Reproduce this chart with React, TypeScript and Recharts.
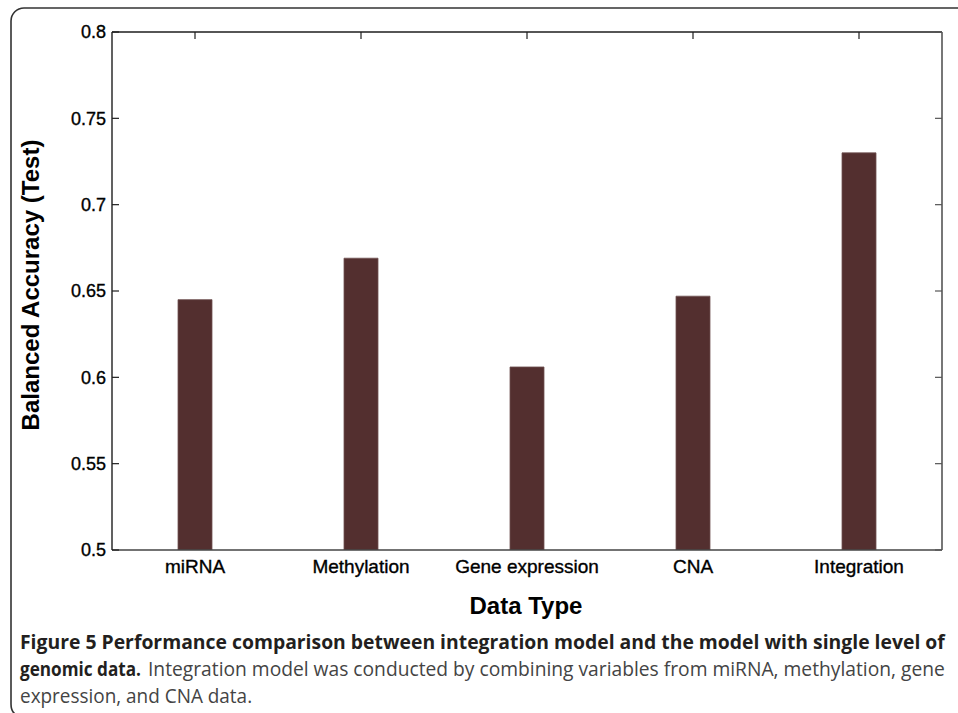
import React, { useLayoutEffect, useRef, useState } from "react";
import { BarChart, Bar, XAxis, YAxis } from "recharts";

// ---- data ----
const categories = ["miRNA", "Methylation", "Gene expression", "CNA", "Integration"];
const accuracy = [0.645, 0.669, 0.606, 0.647, 0.730];
const yTicks = [0.5, 0.55, 0.6, 0.65, 0.7, 0.75, 0.8];
const yTickLabels = ["0.5", "0.55", "0.6", "0.65", "0.7", "0.75", "0.8"];

const xTitle = "Data Type";
const yTitle = "Balanced Accuracy (Test)";
const captionBold1 = "Figure 5 Performance comparison between integration model and the model with single level of";
const captionBold2 = "genomic data.";
const captionRegular2 = "Integration model was conducted by combining variables from miRNA, methylation, gene";
const captionRegular3 = "expression, and CNA data.";

const data = categories.map((name, i) => ({ name, value: accuracy[i] }));

// ---- layout ----
const W = 958;
const H = 713;
const PLOT_LEFT = 112;
const PLOT_RIGHT = 942;
const PLOT_TOP = 32;
const PLOT_BOTTOM = 550;
const TICK = 7;
const AXIS_COLOR = "#1e1e1e";
const BAR_COLOR = "#532f2f";
const FONT = "'Liberation Sans', Arial, Helvetica, sans-serif";
const CAP_FONT = "'Open Sans', 'Noto Sans', sans-serif";

function FitText(props: any) {
  const { x, y, width, children, ...rest } = props;
  const ref = useRef<SVGTextElement>(null);
  const [sx, setSx] = useState(1);
  useLayoutEffect(() => {
    const measure = () => {
      if (ref.current) {
        const w = ref.current.getComputedTextLength();
        if (w > 0) setSx(width / w);
      }
    };
    measure();
    if ((document as any).fonts && (document as any).fonts.ready) {
      (document as any).fonts.ready.then(measure);
    }
  }, [width]);
  return (
    <text ref={ref} x={0} y={0} transform={`translate(${x},${y}) scale(${sx},1)`} {...rest}>
      {children}
    </text>
  );
}

const LeftTick = (props: any) => {
  const { y, payload } = props;
  const idx = yTicks.indexOf(payload.value);
  const label = idx >= 0 ? yTickLabels[idx] : String(payload.value);
  return (
    <g>
      <line x1={PLOT_LEFT} x2={PLOT_LEFT + TICK} y1={y} y2={y} stroke={AXIS_COLOR} strokeWidth={1.2} />
      <text
        x={PLOT_LEFT - 6}
        y={y}
        dy="0.36em"
        textAnchor="end"
        fontFamily={FONT}
        fontSize={18}
        fill="#000"
        stroke="#000"
        strokeWidth={0.35}
      >
        {label}
      </text>
    </g>
  );
};

const RightTick = (props: any) => {
  const { y } = props;
  return <line x1={PLOT_RIGHT - TICK} x2={PLOT_RIGHT} y1={y} y2={y} stroke="#555" strokeWidth={1.2} />;
};

const TopTick = (props: any) => {
  const { x } = props;
  return <line x1={x} x2={x} y1={PLOT_TOP} y2={PLOT_TOP + TICK} stroke={AXIS_COLOR} strokeWidth={1.2} />;
};

const BottomTick = (props: any) => {
  const { x, payload } = props;
  return (
    <text
      x={x}
      y={573}
      textAnchor="middle"
      fontFamily={FONT}
      fontSize={19}
      fill="#000"
      stroke="#000"
      strokeWidth={0.35}
    >
      {payload.value}
    </text>
  );
};

export default function App() {
  return (
    <div style={{ position: "absolute", left: 0, top: 0, width: W, height: H, background: "#fff" }}>
      <BarChart width={W} height={H} data={data} margin={{ top: 0, right: 0, bottom: 0, left: 0 }}>
        <XAxis
          xAxisId="bottom"
          dataKey="name"
          orientation="bottom"
          height={H - PLOT_BOTTOM}
          axisLine={{ stroke: "#444", strokeWidth: 1.6 }}
          tickLine={false}
          tick={<BottomTick />}
          interval={0}
        />
        <XAxis
          xAxisId="top"
          dataKey="name"
          orientation="top"
          height={PLOT_TOP}
          axisLine={{ stroke: AXIS_COLOR, strokeWidth: 1.4 }}
          tickLine={false}
          tick={<TopTick />}
          interval={0}
        />
        <YAxis
          yAxisId="left"
          orientation="left"
          width={PLOT_LEFT}
          domain={[0.5, 0.8]}
          ticks={yTicks}
          type="number"
          allowDataOverflow
          axisLine={{ stroke: AXIS_COLOR, strokeWidth: 1.4 }}
          tickLine={false}
          tick={<LeftTick />}
          interval={0}
        />
        <YAxis
          yAxisId="right"
          orientation="right"
          width={W - PLOT_RIGHT}
          domain={[0.5, 0.8]}
          ticks={yTicks}
          type="number"
          allowDataOverflow
          axisLine={{ stroke: "#555", strokeWidth: 1.6 }}
          tickLine={false}
          tick={<RightTick />}
          interval={0}
        />
        <Bar
          xAxisId="bottom"
          yAxisId="left"
          dataKey="value"
          fill={BAR_COLOR}
          stroke="#6e5050"
          strokeWidth={0.8}
          barSize={34}
          isAnimationActive={false}
        />
        <Bar
          xAxisId="top"
          yAxisId="right"
          dataKey="value"
          fill="none"
          stroke="none"
          barSize={1}
          isAnimationActive={false}
        />
      </BarChart>
      <svg
        width={W}
        height={H}
        style={{ position: "absolute", left: 0, top: 0, pointerEvents: "none" }}
      >
        <path
          d={`M ${W + 5} 8 H 24 A 13 13 0 0 0 11 21 V 704 Q 11 711 15 714`}
          fill="none"
          stroke="#333"
          strokeWidth={1.6}
        />
        <text
          x={0}
          y={0}
          transform={`translate(30, ${(PLOT_TOP + PLOT_BOTTOM) / 2 - 6}) rotate(-90)`}
          textAnchor="middle"
          dominantBaseline="central"
          fontFamily={FONT}
          fontWeight="bold"
          fontSize={24}
          fill="#000"
        >
          {yTitle}
        </text>
        <text
          x={(PLOT_LEFT + PLOT_RIGHT) / 2 - 1}
          y={614}
          textAnchor="middle"
          fontFamily={FONT}
          fontWeight="bold"
          fontSize={24}
          fill="#000"
        >
          {xTitle}
        </text>
        <FitText x={20} y={649} width={925} fontFamily={CAP_FONT} fontWeight={700} fontSize={20} fill="#231f20">
          {captionBold1}
        </FitText>
        <FitText x={20} y={676} width={121} fontFamily={CAP_FONT} fontWeight={700} fontSize={20} fill="#231f20">
          {captionBold2}
        </FitText>
        <FitText x={148} y={676} width={797} fontFamily={CAP_FONT} fontWeight={400} fontSize={20} fill="#444">
          {captionRegular2}
        </FitText>
        <FitText x={20} y={703} width={232} fontFamily={CAP_FONT} fontWeight={400} fontSize={20} fill="#444">
          {captionRegular3}
        </FitText>
      </svg>
    </div>
  );
}
